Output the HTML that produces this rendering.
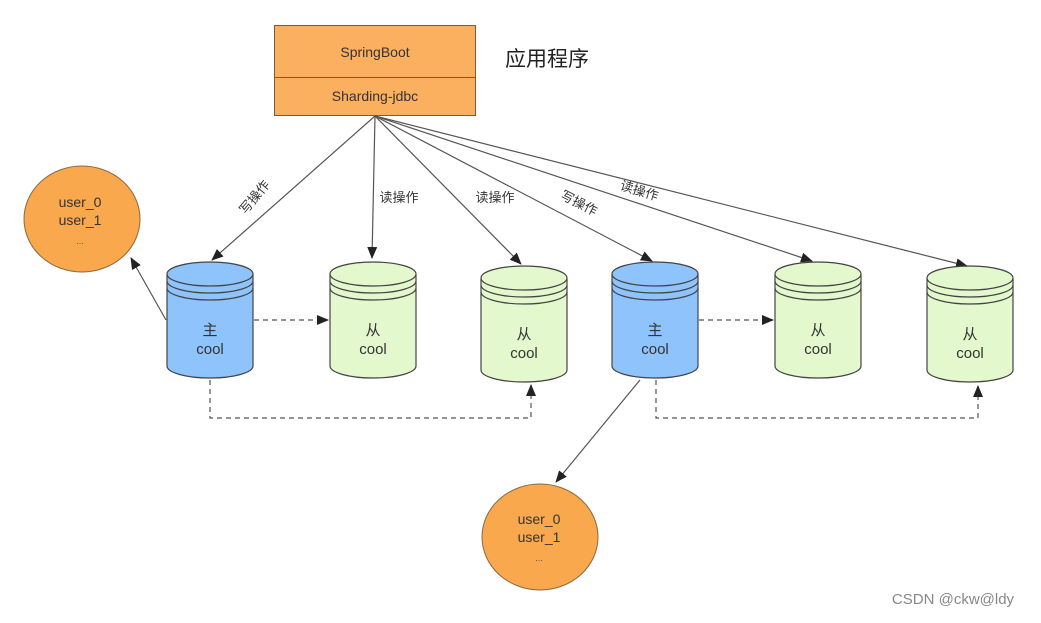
<!DOCTYPE html>
<html><head><meta charset="utf-8"><style>
body{margin:0;background:#fff;width:1041px;height:618px;overflow:hidden}
svg text{font-family:"Liberation Sans","Noto Sans CJK SC",sans-serif}
</style></head><body>
<svg width="1041" height="618" viewBox="0 0 1041 618" xmlns="http://www.w3.org/2000/svg">
<defs>
<marker id="a" markerWidth="12" markerHeight="10" refX="11" refY="5" orient="auto" markerUnits="userSpaceOnUse">
<path d="M0,0 L12,5 L0,10 Z" fill="#222"/></marker>
<symbol id="cylB" viewBox="0 0 86 118" overflow="visible"></symbol>
</defs>
<!-- app box -->
<rect x="274.5" y="25.5" width="201" height="90" fill="#fbb05f" stroke="#7a5a3a"/>
<line x1="274" y1="77.5" x2="475" y2="77.5" stroke="#7a5a3a"/>
<text x="375" y="57" font-size="14" text-anchor="middle" fill="#333">SpringBoot</text>
<text x="375" y="101" font-size="14" text-anchor="middle" fill="#333">Sharding-jdbc</text>
<text x="547" y="66" font-size="21" text-anchor="middle" fill="#222">应用程序</text>
<!-- arrows from box -->
<g stroke="#555" stroke-width="1.2" fill="none" marker-end="url(#a)">
<line x1="375" y1="116" x2="212" y2="260"/>
<line x1="375" y1="116" x2="372" y2="258"/>
<line x1="375" y1="116" x2="521" y2="264"/>
<line x1="375" y1="116" x2="652" y2="261"/>
<line x1="375" y1="116" x2="812" y2="261"/>
<line x1="375" y1="116" x2="967" y2="266"/>
<line x1="166" y1="320" x2="131" y2="258"/>
<line x1="640" y1="380" x2="556" y2="482"/>
</g>
<g stroke="#555" stroke-width="1.2" fill="none" stroke-dasharray="5,4" marker-end="url(#a)">
<line x1="254" y1="320" x2="328" y2="320"/>
<line x1="699" y1="320" x2="773" y2="320"/>
<polyline points="210,380 210,418 531,418 531,385"/>
<polyline points="656,380 656,418 978,418 978,386"/>
</g>
<!-- labels -->
<text font-size="13" fill="#333" transform="translate(258,200) rotate(-50)" text-anchor="middle">写操作</text>
<text x="399" y="202" font-size="13" fill="#333" text-anchor="middle">读操作</text>
<text x="495" y="202" font-size="13" fill="#333" text-anchor="middle">读操作</text>
<text font-size="13" fill="#333" transform="translate(577,207) rotate(27)" text-anchor="middle">写操作</text>
<text font-size="13" fill="#333" transform="translate(638,195) rotate(17)" text-anchor="middle">读操作</text>
<!-- circles -->
<ellipse cx="82" cy="219" rx="58" ry="53" fill="#f9a84e" stroke="#8a6a40"/>
<text x="80" y="207" font-size="14" text-anchor="middle" fill="#333">user_0</text>
<text x="80" y="225" font-size="14" text-anchor="middle" fill="#333">user_1</text>
<text x="80" y="244" font-size="9" text-anchor="middle" fill="#555">...</text>
<ellipse cx="540" cy="537" rx="58" ry="53" fill="#f9a84e" stroke="#8a6a40"/>
<text x="539" y="524" font-size="14" text-anchor="middle" fill="#333">user_0</text>
<text x="539" y="542" font-size="14" text-anchor="middle" fill="#333">user_1</text>
<text x="539" y="561" font-size="9" text-anchor="middle" fill="#555">...</text>
<!-- cylinders -->
<g id="cyls" stroke="#444" stroke-width="1.2">
<g transform="translate(167,262)">
<path d="M0,12 L0,104 A43,12 0 0 0 86,104 L86,12" fill="#8fc3fb"/>
<ellipse cx="43" cy="12" rx="43" ry="12" fill="#8fc3fb"/>
<path d="M0,19 A43,12 0 0 0 86,19 M0,26 A43,12 0 0 0 86,26" fill="none"/>
<text x="43" y="73" font-size="15" text-anchor="middle" fill="#333" stroke="none">主</text>
<text x="43" y="92" font-size="15" text-anchor="middle" fill="#333" stroke="none">cool</text></g>
<g transform="translate(612,262)">
<path d="M0,12 L0,104 A43,12 0 0 0 86,104 L86,12" fill="#8fc3fb"/>
<ellipse cx="43" cy="12" rx="43" ry="12" fill="#8fc3fb"/>
<path d="M0,19 A43,12 0 0 0 86,19 M0,26 A43,12 0 0 0 86,26" fill="none"/>
<text x="43" y="73" font-size="15" text-anchor="middle" fill="#333" stroke="none">主</text>
<text x="43" y="92" font-size="15" text-anchor="middle" fill="#333" stroke="none">cool</text></g>
<g transform="translate(330,262)">
<path d="M0,12 L0,104 A43,12 0 0 0 86,104 L86,12" fill="#e3f8cc"/>
<ellipse cx="43" cy="12" rx="43" ry="12" fill="#e3f8cc"/>
<path d="M0,19 A43,12 0 0 0 86,19 M0,26 A43,12 0 0 0 86,26" fill="none"/>
<text x="43" y="73" font-size="15" text-anchor="middle" fill="#333" stroke="none">从</text>
<text x="43" y="92" font-size="15" text-anchor="middle" fill="#333" stroke="none">cool</text></g>
<g transform="translate(481,266)">
<path d="M0,12 L0,104 A43,12 0 0 0 86,104 L86,12" fill="#e3f8cc"/>
<ellipse cx="43" cy="12" rx="43" ry="12" fill="#e3f8cc"/>
<path d="M0,19 A43,12 0 0 0 86,19 M0,26 A43,12 0 0 0 86,26" fill="none"/>
<text x="43" y="73" font-size="15" text-anchor="middle" fill="#333" stroke="none">从</text>
<text x="43" y="92" font-size="15" text-anchor="middle" fill="#333" stroke="none">cool</text></g>
<g transform="translate(775,262)">
<path d="M0,12 L0,104 A43,12 0 0 0 86,104 L86,12" fill="#e3f8cc"/>
<ellipse cx="43" cy="12" rx="43" ry="12" fill="#e3f8cc"/>
<path d="M0,19 A43,12 0 0 0 86,19 M0,26 A43,12 0 0 0 86,26" fill="none"/>
<text x="43" y="73" font-size="15" text-anchor="middle" fill="#333" stroke="none">从</text>
<text x="43" y="92" font-size="15" text-anchor="middle" fill="#333" stroke="none">cool</text></g>
<g transform="translate(927,266)">
<path d="M0,12 L0,104 A43,12 0 0 0 86,104 L86,12" fill="#e3f8cc"/>
<ellipse cx="43" cy="12" rx="43" ry="12" fill="#e3f8cc"/>
<path d="M0,19 A43,12 0 0 0 86,19 M0,26 A43,12 0 0 0 86,26" fill="none"/>
<text x="43" y="73" font-size="15" text-anchor="middle" fill="#333" stroke="none">从</text>
<text x="43" y="92" font-size="15" text-anchor="middle" fill="#333" stroke="none">cool</text></g>
</g>
<text x="953" y="604" font-size="15" text-anchor="middle" fill="#888">CSDN @ckw@ldy</text>
</svg>
</body></html>
